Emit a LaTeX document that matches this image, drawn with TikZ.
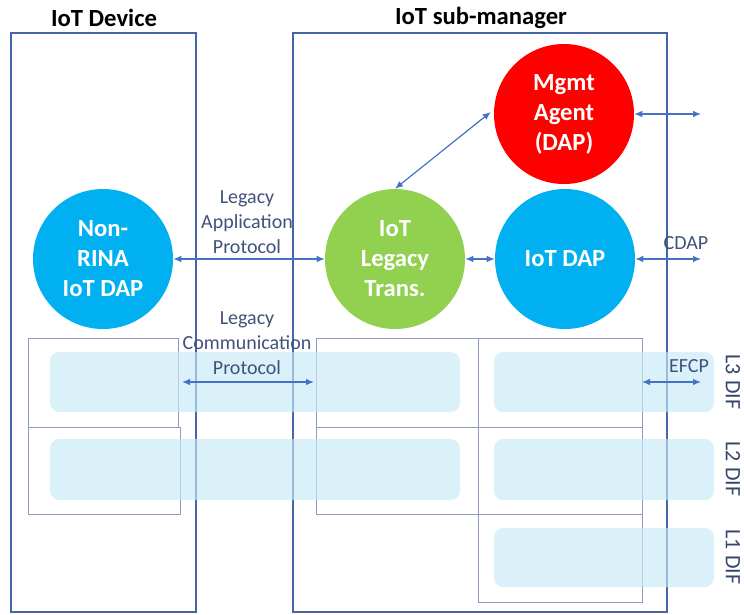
\documentclass[tikz,border=0pt]{standalone}
\usepackage{fontspec}
\setmainfont{Carlito}
\usetikzlibrary{arrows.meta}
\definecolor{frameblue}{RGB}{70,100,170}
\definecolor{arrowblue}{RGB}{68,114,196}
\definecolor{layerline}{RGB}{140,155,192}
\definecolor{bandblue}{RGB}{200,233,248}
\definecolor{labelgray}{RGB}{64,82,122}
\definecolor{mgmtred}{RGB}{255,0,0}
\definecolor{legacygreen}{RGB}{146,208,80}
\definecolor{dapblue}{RGB}{0,176,240}
\tikzset{
  x=0.75pt, y=-0.75pt,
  frame/.style={draw=frameblue, line width=1.1pt},
  layerbox/.style={draw=layerline, line width=0.7pt},
  band/.style={fill=bandblue, fill opacity=0.65, rounded corners=7pt},
  proc/.style={circle, minimum size=105pt, inner sep=0pt, text=white,
    font=\fontsize{18.5}{22.5}\selectfont\bfseries, align=center},
  link/.style={draw=arrowblue, line width=0.9pt,
    {Latex[length=6pt,width=5pt]}-{Latex[length=6pt,width=5pt]}},
  title/.style={font=\fontsize{18.5}{22}\selectfont\bfseries},
  lbl/.style={text=labelgray, font=\fontsize{15}{18.8}\selectfont, align=center},
  difl/.style={text=labelgray!85!black, font=\fontsize{16.5}{18}\selectfont, rotate=-90}
}
\begin{document}
\begin{tikzpicture}
\useasboundingbox (0,0) rectangle (744,615);

% titles
\node[title] (devtitle) at (104,18) {IoT Device};
\node[title] (subtitle) at (481,18) {IoT sub-manager};

% outer frames
\draw[frame] (11,33) rectangle (196,612);
\draw[frame] (293,33) rectangle (667,612);

% protocol stack frames
\draw[layerbox] (28,338) rectangle (178,427);
\draw[layerbox] (28,427) rectangle (180,514);
\draw[layerbox] (316,338) rectangle (642,514);
\draw[layerbox] (316,427) -- (642,427);
\draw[layerbox] (478,338) -- (478,514);
\draw[layerbox] (478,514) rectangle (642,602);

% DIF bands
\fill[band] (50,352) rectangle (460,412);
\fill[band] (494,352) rectangle (714,412);
\fill[band] (50,439) rectangle (460,500);
\fill[band] (494,439) rectangle (714,500);
\fill[band] (494,528) rectangle (714,587);

% processes
\node[proc, fill=mgmtred] (mgmt) at (564,114) {Mgmt\\Agent\\(DAP)};
\node[proc, fill=dapblue] (nonrina) at (103,259) {Non-\\RINA\\IoT DAP};
\node[proc, fill=legacygreen] (legacy) at (395,259) {IoT\\Legacy\\Trans.};
\node[proc, fill=dapblue] (iotdap) at (565,259) {IoT DAP};

% free ends of external links
\coordinate (mgmtout) at (701,114);
\coordinate (cdapout) at (701,259);
\coordinate (commL) at (182,382);
\coordinate (commR) at (314,382);
\coordinate (efcpL) at (642,382);
\coordinate (efcpR) at (701,382);

% connectors
\draw[link] (mgmt.east) -- (mgmtout);
\draw[link] (mgmt.west) ++(-3,-2) coordinate (mgmtin) (mgmtin) -- (legacy.north);
\draw[link] (nonrina.east) -- (legacy.west);
\draw[link] (legacy.east) -- (iotdap.west);
\draw[link] (iotdap.east) -- (cdapout);
\draw[link] (commL) -- (commR);
\draw[link] (efcpL) -- (efcpR);

% link labels
\node[lbl] (applbl) at (247,222) {Legacy\\Application\\Protocol};
\node[lbl] (commlbl) at (247,343) {Legacy\\Communication\\Protocol};
\node[lbl] (cdaplbl) at (686,243) {CDAP};
\node[lbl] (efcplbl) at (689,366) {EFCP};

% layer names
\node[difl] (l3) at (733,382) {L3 DIF};
\node[difl] (l2) at (733,469) {L2 DIF};
\node[difl] (l1) at (733,557) {L1 DIF};
\end{tikzpicture}
\end{document}
